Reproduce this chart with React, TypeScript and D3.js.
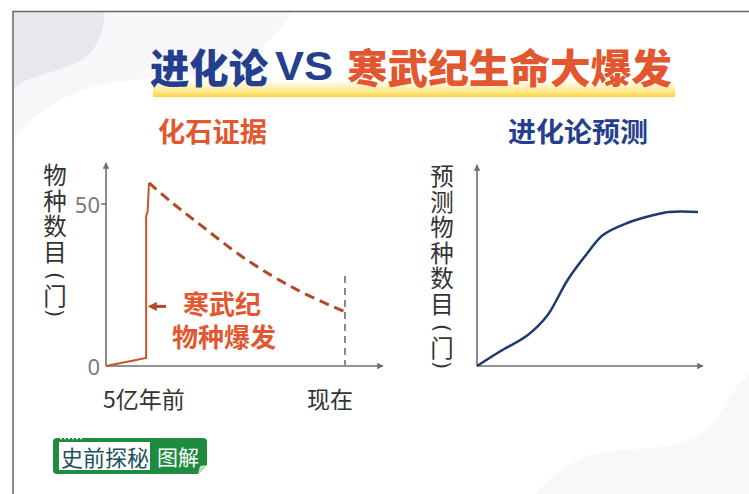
import React from "react";
import * as d3 from "d3";

// 化石证据: x = 亿年前 (5 -> 0), y = 门
const fossilSolid = [
  { t: 5, v: 0 },
  { t: 4.16, v: 2.5 },
  { t: 4.16, v: 46.3 },
  { t: 4.13, v: 47.5 },
  { t: 4.1, v: 56.5 },
];
const fossilDashed = [
  { t: 4.1, v: 56.5 },
  { t: 3.6, v: 50.2 },
  { t: 3.1, v: 44.4 },
  { t: 2.05, v: 32.7 },
  { t: 1.0, v: 23.5 },
  { t: 0, v: 16.7 },
];
const leftTicks = [0, 50];

// 进化论预测 (arbitrary units)
const predX = [0, 10, 23, 32, 36, 41, 50, 57, 68, 80, 87, 100];
const predY = [0, 7, 15.5, 25.5, 33, 43, 56.5, 65.5, 71.5, 75.5, 77, 77];

const leftLabel = ["物", "种", "数", "目", "(", "门", ")"];
const rightLabel = ["预", "测", "物", "种", "数", "目", "(", "门", ")"];

const CJK = "'Noto Sans CJK SC', 'Noto Sans', sans-serif";
const BLUE = "#253f8e";
const ORANGE = "#e2572f";
const AXIS = "#6e6e6e";

// stacked vertical axis title; parens are rotated like ︵ ︶
const VerticalLabel: React.FC<{ chars: string[]; x: number; y0: number }> = ({ chars, x, y0 }) => {
  let y = y0;
  const items: { c: string; y: number }[] = [];
  chars.forEach((c, i) => {
    if (i > 0) {
      const prev = chars[i - 1];
      if (prev === "(") y += 19;
      else if (c === ")") y += 18;
      else y += 25.5;
    }
    items.push({ c, y });
  });
  const glyphs = items.filter((d) => d.c !== "(" && d.c !== ")");
  const parens = items.filter((d) => d.c === "(" || d.c === ")");
  return (
    <g fill="#333">
      <text fontFamily={CJK} fontSize={23.5} textAnchor="middle" dominantBaseline="central">
        {glyphs.map((d, i) => (
          <tspan key={i} x={x} y={d.y}>
            {d.c}
          </tspan>
        ))}
      </text>
      {parens.map((d, i) => (
        <text key={i} x={x} y={d.y} textAnchor="middle" dominantBaseline="central"
          transform={`rotate(90 ${x} ${d.y})`} fontFamily="'DejaVu Sans', sans-serif" fontSize={21}>
          {d.c}
        </text>
      ))}
    </g>
  );
};

export default function App() {
  // left chart scales
  const lx = d3.scaleLinear().domain([5, 0]).range([106, 345]);
  const ly = d3.scaleLinear().domain([0, 50]).range([366, 204]);
  const solidLine = d3.line<{ t: number; v: number }>().x((d) => lx(d.t)).y((d) => ly(d.v));
  const dashLine = d3
    .line<{ t: number; v: number }>()
    .x((d) => lx(d.t))
    .y((d) => ly(d.v))
    .curve(d3.curveCatmullRom);

  // right chart scales
  const rx = d3.scaleLinear().domain([0, 100]).range([477, 698]);
  const ry = d3.scaleLinear().domain([0, 100]).range([366, 166]);
  const predLine = d3
    .line<number>()
    .x((_, i) => rx(predX[i]))
    .y((d) => ry(d))
    .curve(d3.curveCatmullRom);

  const lx0 = lx(5);
  const ly0 = ly(0);
  const rx0 = rx(0);
  const ry0 = ry(0);
  const nowX = lx(0);
  const burstX = lx(4.1);
  const arrowY = ly(18.4);

  return (
    <svg width={749} height={494} style={{ position: "absolute", left: 0, top: 0 }}>
      <defs>
        <linearGradient id="hl" x1="0" y1="0" x2="0" y2="1">
          <stop offset="0" stopColor="#fde77a" stopOpacity={0} />
          <stop offset="0.45" stopColor="#fde680" stopOpacity={0.6} />
          <stop offset="1" stopColor="#f8d240" />
        </linearGradient>
        <marker id="arr" viewBox="0 0 10 10" refX="9" refY="5" markerWidth="4" markerHeight="4" orient="auto">
          <path d="M0,0 L10,5 L0,10 z" fill={AXIS} />
        </marker>
        <marker id="arrR" viewBox="0 0 10 10" refX="2" refY="5" markerWidth="3" markerHeight="3" orient="auto">
          <path d="M0,0 L10,5 L0,10 z" fill="#b04a28" />
        </marker>
      </defs>

      <rect width={749} height={494} fill="#fff" />
      {/* background blobs */}
      <path d="M13,11 L292,11 C282,28 268,45 240,66 C200,80 130,76 95,86 C55,98 30,118 13,140 Z" fill="#f7f7f9" />
      <path d="M13,11 L105,11 C104,28 100,42 90,53 C78,66 55,70 38,76 C26,80 18,84 13,90 Z" fill="#e7e8ed" />
      <path d="M536,494 C548,480 560,468 590,455 C620,448 650,450 680,444 C705,436 718,420 728,400 C735,388 742,380 749,374 L749,494 Z" fill="#f8f8f8" />

      {/* frame */}
      <path d="M13,494 L13,11.5 L749,11.5" fill="none" stroke="#666" strokeWidth={1.5} />

      {/* title */}
      <rect x={153} y={80} width={522} height={17} fill="url(#hl)" />
      <g fontFamily={CJK} fontWeight={900} fontSize={40} dominantBaseline="central">
        <text x={150} y={66} fill={BLUE} textLength={118} lengthAdjust="spacingAndGlyphs">进化论</text>
        <text x={275} y={66} fill={BLUE} fontFamily="'Liberation Sans', Arial, sans-serif" fontWeight={700}
          textLength={58} lengthAdjust="spacingAndGlyphs">VS</text>
        <text x={347} y={66} fill={ORANGE} textLength={325} lengthAdjust="spacingAndGlyphs">寒武纪生命大爆发</text>
      </g>
      <g fontFamily={CJK} fontWeight={700} fontSize={27} dominantBaseline="central">
        <text x={158} y={130} fill={ORANGE} textLength={109} lengthAdjust="spacingAndGlyphs">化石证据</text>
        <text x={508} y={130} fill={BLUE} textLength={140} lengthAdjust="spacingAndGlyphs">进化论预测</text>
      </g>

      {/* left chart */}
      <line x1={lx0} y1={ly0} x2={lx0} y2={163} stroke={AXIS} strokeWidth={1.6} markerEnd="url(#arr)" />
      <line x1={lx0} y1={ly0} x2={383} y2={ly0} stroke={AXIS} strokeWidth={1.6} markerEnd="url(#arr)" />
      {leftTicks.map((t) => (
        <g key={t}>
          {t !== 0 && <line x1={lx0 - 5} x2={lx0} y1={ly(t)} y2={ly(t)} stroke={AXIS} strokeWidth={1.5} />}
          <text x={lx0 - 6} y={ly(t)} textAnchor="end" dominantBaseline="central" fill="#7a7a7a"
            fontFamily="'Noto Sans', sans-serif" fontSize={22}>
            {t}
          </text>
        </g>
      ))}
      <line x1={nowX} x2={nowX} y1={276} y2={ly0} stroke="#8a8a8a" strokeWidth={2} strokeDasharray="7 5" />
      <path d={solidLine(fossilSolid) || ""} fill="none" stroke="#c8532d" strokeWidth={2} />
      <path d={dashLine(fossilDashed) || ""} fill="none" stroke="#b04a28" strokeWidth={3} strokeDasharray="10 6" />
      <line x1={166} x2={burstX + 6} y1={arrowY} y2={arrowY} stroke="#b04a28" strokeWidth={3} markerEnd="url(#arrR)" />
      <g fontFamily={CJK} fontWeight={700} fontSize={26} fill={ORANGE} textAnchor="middle" dominantBaseline="central">
        <text x={222} y={302}>寒武纪</text>
        <text x={224} y={335}>物种爆发</text>
      </g>
      <VerticalLabel chars={leftLabel} x={55} y0={174} />
      <g fontFamily={CJK} fontSize={23} fill="#333" dominantBaseline="central">
        <text x={103} y={398}>5亿年前</text>
        <text x={nowX - 15} y={398} textAnchor="middle">现在</text>
      </g>

      {/* right chart */}
      <line x1={rx0} y1={ry0} x2={rx0} y2={165} stroke={AXIS} strokeWidth={1.6} markerEnd="url(#arr)" />
      <line x1={rx0} y1={ry0} x2={703} y2={ry0} stroke={AXIS} strokeWidth={1.6} markerEnd="url(#arr)" />
      <path d={predLine(predY) || ""} fill="none" stroke="#1e3a6e" strokeWidth={2.5} />
      <VerticalLabel chars={rightLabel} x={442} y0={175} />

      {/* logo */}
      <g>
        <rect x={53} y={438} width={154} height={36} rx={4} fill="#1f8b3f" />
        <rect x={59} y={442} width={91} height={28} fill="#fff" />
        <line x1={60} x2={84} y1={438.5} y2={438.5} stroke="#fff" strokeWidth={1.5} strokeDasharray="2 2" />
        <path d="M198,474 L207,465 L207,474 Z" fill="#fff" />
        <path d="M198,474 L200,466 L207,465 Z" fill="#bfe0c4" />
        <text x={105} y={456} textAnchor="middle" dominantBaseline="central" fontFamily={CJK} fontSize={22} fill="#1d5060">
          史前探秘
        </text>
        <text x={178} y={456} textAnchor="middle" dominantBaseline="central" fontFamily={CJK} fontSize={21} fill="#fff">
          图解
        </text>
      </g>
    </svg>
  );
}
